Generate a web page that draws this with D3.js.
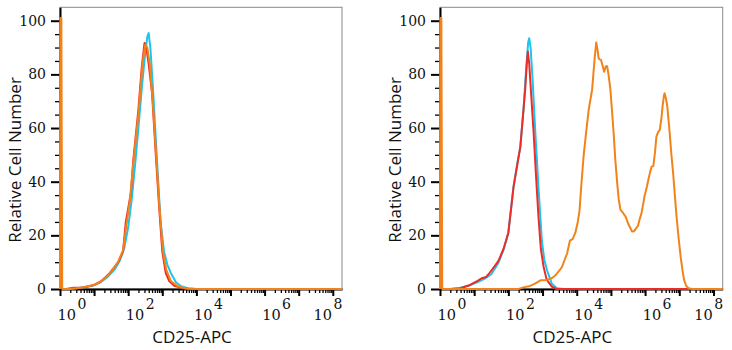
<!DOCTYPE html>
<html>
<head>
<meta charset="utf-8">
<script src="https://cdn.jsdelivr.net/npm/d3@7"></script>
<style>
  html, body { margin: 0; padding: 0; background: #fff; }
  svg { display: block; }
</style>
</head>
<body>
<svg id="chart" width="732" height="350"></svg>
<script>
// ---------- DATA (x given as log10 of CD25-APC intensity, y = relative cell number) ----------
const yTickValues = [0, 20, 40, 60, 80, 100];
const xLabelExponents = [0, 2, 4, 6, 8];
const xTitle = "CD25-APC";
const yTitle = "Relative Cell Number";
const seriesNames = ["isotype", "unstained", "CD25"];

const leftCyan = [[0.15,0],[0.5,0.3],[0.8,0.8],[1.0,1.4],[1.2,2.6],[1.4,4.5],[1.6,7.2],[1.75,10.5],[1.88,15],[2.0,23],[2.1,33],[2.2,46],[2.3,60],[2.4,75],[2.5,88],[2.56,94],[2.6,95.4],[2.65,90],[2.72,76],[2.8,58],[2.88,40],[2.95,25],[3.05,14],[3.15,9],[3.25,6],[3.4,2.5],[3.55,1],[3.75,0.3],[4.0,0],[8.27,0]];
const leftRed = [[0.2,0],[0.4,0.5],[0.7,0.6],[1.0,1.5],[1.2,2.8],[1.45,5.8],[1.7,9.8],[1.85,14],[1.93,25],[2.0,30],[2.08,36],[2.15,48],[2.3,67],[2.4,83],[2.48,91.7],[2.53,90],[2.6,84],[2.7,73],[2.8,52],[2.9,32],[3.0,14],[3.1,6],[3.2,3],[3.35,1.2],[3.6,0.3],[3.8,0],[8.27,0]];
const leftOrange = [[0,0],[0.01,101],[0.04,101],[0.065,0],[0.3,0],[0.6,0.5],[1.0,1.5],[1.2,2.7],[1.45,5.5],[1.7,10],[1.85,14.5],[1.95,24],[2.05,33],[2.15,47],[2.3,65],[2.42,84],[2.5,91],[2.56,90],[2.63,84],[2.72,70],[2.82,50],[2.92,30],[3.02,14],[3.12,7],[3.25,3],[3.45,1],[3.7,0.2],[4.0,0],[8.27,0]];

const rightCyan = [[0.3,0],[0.55,0.3],[0.85,1.3],[1.1,2.6],[1.3,3.8],[1.5,5.5],[1.7,9.5],[1.86,14.6],[2.0,21],[2.15,38],[2.25,46],[2.35,53],[2.45,68],[2.52,82],[2.58,92],[2.61,93.5],[2.65,90],[2.7,80],[2.79,58],[2.88,38],[2.98,18],[3.05,11],[3.13,7],[3.27,2],[3.42,0.3],[3.6,0],[8.27,0]];
const rightRed = [[0.3,0],[0.6,0.3],[0.88,1.5],[1.1,3],[1.22,4],[1.35,4.5],[1.42,5.5],[1.6,8.5],[1.71,10.5],[1.86,15],[2.0,21],[2.15,38],[2.35,53],[2.49,74],[2.54,84],[2.57,88.5],[2.61,84],[2.66,74],[2.74,58],[2.81,42],[2.88,27],[2.95,15],[3.03,8.3],[3.12,3.5],[3.27,0.9],[3.4,0],[8.27,0]];
const rightOrange = [[0,0],[0.01,101],[0.04,101],[0.065,0],[2.3,0],[2.44,0.6],[2.6,1],[2.75,1.8],[2.83,2.4],[2.95,3.3],[3.13,3.4],[3.27,4],[3.37,5],[3.5,7],[3.57,8.3],[3.65,11],[3.72,13.3],[3.8,18],[3.88,18.6],[3.96,21],[4.03,25],[4.08,29],[4.13,38],[4.2,49.4],[4.28,59],[4.35,66.8],[4.45,74.3],[4.52,85.4],[4.57,91.9],[4.61,89],[4.64,86],[4.68,85.5],[4.71,85.4],[4.76,83],[4.8,81],[4.85,83],[4.89,83],[4.93,79.9],[4.98,75],[5.03,66.8],[5.08,58],[5.13,48],[5.18,40],[5.23,33.2],[5.28,29.5],[5.33,28.8],[5.43,27],[5.5,24.5],[5.55,23.2],[5.62,21.4],[5.67,21.5],[5.73,22.5],[5.79,23.5],[5.84,26],[5.89,28],[5.95,32],[5.98,34.4],[6.05,38],[6.1,41],[6.14,43.2],[6.19,45.6],[6.24,45.8],[6.29,51],[6.33,56.8],[6.38,58.5],[6.43,59.3],[6.48,64],[6.51,68],[6.55,72],[6.57,73],[6.61,71],[6.65,68],[6.72,58],[6.77,50],[6.82,43.2],[6.87,35],[6.92,27],[6.98,19],[7.04,12],[7.1,6.5],[7.14,3.4],[7.2,1.2],[7.27,0.3],[7.38,0],[8.27,0]];

// ---------- STYLE / LAYOUT ----------
const colors = { cyan: "#1fc3ee", red: "#ee2b25", orange: "#f2831a" };
const panels = [
  { x0: 60,  x1: 342,   series: [[leftCyan, colors.cyan], [leftRed, colors.red], [leftOrange, colors.orange]] },
  { x0: 440, x1: 722.7, series: [[rightCyan, colors.cyan], [rightRed, colors.red], [rightOrange, colors.orange]] }
];
const yBottom = 289, yTop = 7.3;
const xMaxExp = 8.27;

const svg = d3.select("#chart");
svg.append("rect").attr("width", 732).attr("height", 350).attr("fill", "#fff");

// tick values for log axis
const majorX = d3.range(0, 9).map(e => Math.pow(10, e));
const minorX = [];
for (let e = 0; e < 9; e++) for (let k = 2; k <= 9; k++) {
  const v = k * Math.pow(10, e);
  if (Math.log10(v) <= xMaxExp) minorX.push(v);
}
const minorY = d3.range(0, 101, 5).filter(v => v % 20 !== 0);

panels.forEach(p => {
  const x = d3.scaleLog().domain([1, Math.pow(10, xMaxExp)]).range([p.x0, p.x1]);
  const y = d3.scaleLinear().domain([0, 105]).range([yBottom, yTop]);
  const g = svg.append("g");

  // frame
  g.append("rect")
    .attr("x", p.x0).attr("y", yTop)
    .attr("width", p.x1 - p.x0).attr("height", yBottom - yTop)
    .attr("fill", "none").attr("stroke", "#8a8a8a").attr("stroke-width", 1);

  // x axis (minor + major)
  const gxMinor = g.append("g").attr("transform", `translate(0,${yBottom})`)
    .call(d3.axisBottom(x).tickValues(minorX).tickSize(4).tickFormat(""));
  gxMinor.select(".domain").remove();
  gxMinor.selectAll(".tick line").attr("stroke", "#000").attr("stroke-width", 1.3);
  const gx = g.append("g").attr("transform", `translate(0,${yBottom})`)
    .call(d3.axisBottom(x).tickValues(majorX).tickSize(7).tickSizeOuter(0).tickFormat(""));
  gx.select(".domain").attr("stroke", "#000").attr("stroke-width", 2);
  gx.selectAll(".tick line").attr("stroke", "#000").attr("stroke-width", 2);

  // x labels 10^n
  const labels = g.append("g").selectAll("text")
    .data(xLabelExponents)
    .join("text")
    .attr("x", e => Math.min(x(Math.pow(10, e)) + 12, p.x1 - 14))
    .attr("y", 320)
    .attr("text-anchor", "middle")
    .attr("font-family", "DejaVu Serif")
    .attr("font-size", 14.5)
    .attr("fill", "#111");
  labels.append("tspan").text("10");
  labels.append("tspan").attr("dx", 1.5).attr("dy", -11).attr("font-size", 14).text(e => e);

  // y axis
  const gyMinor = g.append("g").attr("transform", `translate(${p.x0},0)`)
    .call(d3.axisLeft(y).tickValues(minorY).tickSize(5).tickFormat(""));
  gyMinor.select(".domain").remove();
  gyMinor.selectAll(".tick line").attr("stroke", "#000").attr("stroke-width", 1.3);
  const gy = g.append("g").attr("transform", `translate(${p.x0},0)`)
    .call(d3.axisLeft(y).tickValues(yTickValues).tickSize(9).tickSizeOuter(0).tickPadding(5));
  gy.select(".domain").attr("stroke", "#000").attr("stroke-width", 2);
  gy.selectAll(".tick line").attr("stroke", "#000").attr("stroke-width", 2);
  gy.selectAll(".tick text")
    .attr("font-family", "DejaVu Serif").attr("font-size", 14).attr("fill", "#111");

  // curves (drawn over the axes, as in the reference)
  const line = d3.line()
    .x(d => x(Math.pow(10, d[0])))
    .y(d => y(d[1]))
    .curve(d3.curveLinear);
  p.series.forEach(([data, color]) => {
    g.append("path")
      .datum(data)
      .attr("d", line)
      .attr("fill", "none")
      .attr("stroke", color)
      .attr("stroke-width", 2)
      .attr("stroke-linejoin", "round");
  });

  // titles
  g.append("text")
    .attr("x", (p.x0 + p.x1) / 2 - 9).attr("y", 343)
    .attr("text-anchor", "middle")
    .attr("font-family", "Open Sans").attr("font-size", 17).attr("fill", "#111")
    .text(xTitle);
  g.append("text")
    .attr("transform", `translate(${p.x0 - 39},160) rotate(-90)`)
    .attr("text-anchor", "middle")
    .attr("font-family", "Open Sans").attr("font-size", 17).attr("fill", "#111")
    .text(yTitle);
});
</script>
</body>
</html>
